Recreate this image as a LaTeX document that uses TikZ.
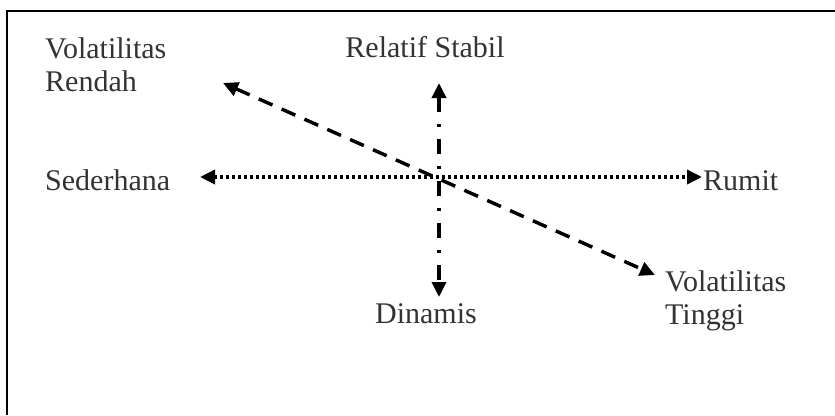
\documentclass[tikz,border=0pt]{standalone}
\usepackage{fontspec}
\setmainfont{Liberation Serif}
\usepackage{xcolor,tikz}
\usetikzlibrary{arrows.meta,positioning}
\definecolor{inkgray}{HTML}{333333}
\tikzset{lbl/.style={text=inkgray,inner sep=0pt,align=left,font=\fontsize{30}{33}\selectfont},
  axis/.style={{Triangle[length=15pt,width=14pt]}-{Triangle[length=15pt,width=14pt]},line width=3.5pt},
  frame/.style={line width=2pt}}

\begin{document}
\begin{tikzpicture}[x=1pt,y=-1pt]
\useasboundingbox (0,0) rectangle (835,415);
\draw[frame] (7,415)--(7,11)--(835,11);
% labels
\node[lbl,anchor=north west] (vr) at (45,37) {Volatilitas\\Rendah};
\node[lbl,anchor=base] (stab) at (425,57) {Relatif Stabil};
\node[lbl,anchor=base west] (sed) at (45,190) {Sederhana};
\node[lbl,anchor=base west] (rum) at (703,190) {Rumit};
\node[lbl,anchor=base] (din) at (426,323) {Dinamis};
\node[lbl,anchor=north west] (vt) at (665,270) {Volatilitas\\Tinggi};
% arrow ends
\coordinate (hl) at (200,177);
\coordinate (hr) at (702,177);
\coordinate (vu) at (439,83);
\coordinate (vd) at (439,297);
\coordinate (dl) at (223,83);
\coordinate (dr) at (655,275);
\draw[axis,dash pattern=on 3pt off 3pt] (hl)--(hr);
\draw[axis,dash pattern=on 15pt off 12pt on 3pt off 12pt] (vu)--(vd);
\draw[axis,dash pattern=on 15pt off 10pt] (dl)--(dr);
\end{tikzpicture}
\end{document}
